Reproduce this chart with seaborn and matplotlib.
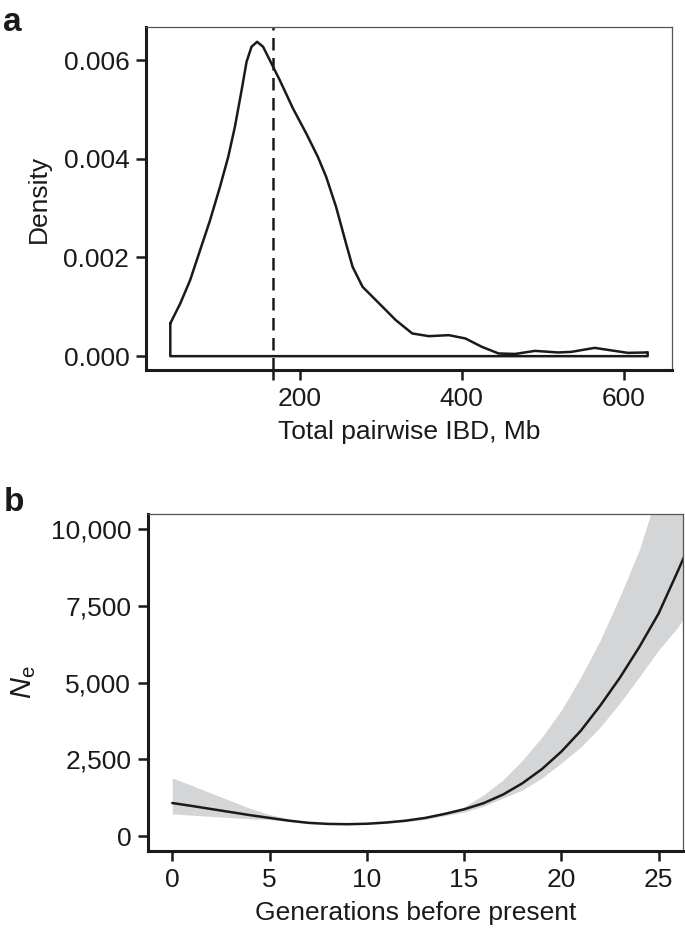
import pandas as pd
import numpy as np
import matplotlib
matplotlib.use("Agg")
import matplotlib.pyplot as plt
import seaborn as sns

# panel a : density of total pairwise IBD
ibd_mb = [40.5, 52.8, 65.0, 77.3, 89.6, 101.8, 112.0, 120.2, 128.5, 134.6, 140.7, 147.6,
          155.0, 163.2, 175.5, 191.8, 208.2, 222.5, 232.8, 245.0, 257.3, 265.4, 277.7,
          298.2, 318.7, 339.0, 359.5, 384.0, 404.5, 424.9, 445.4, 465.9, 490.4, 519.0,
          535.3, 564.0, 588.6, 604.9, 627.4, 629.4]
ibd_density = [0.000663, 0.001068, 0.001541, 0.002149, 0.002757, 0.003432, 0.004040,
               0.004648, 0.005392, 0.005966, 0.006270, 0.006371, 0.006270, 0.006000,
               0.005595, 0.005021, 0.004514, 0.004040, 0.003634, 0.003026, 0.002284,
               0.001810, 0.001405, 0.001068, 0.000730, 0.000460, 0.000405, 0.000426,
               0.000359, 0.000189, 0.000055, 0.000045, 0.000107, 0.000075, 0.000087,
               0.000168, 0.000107, 0.000067, 0.000075, 0.000080]
ibd_median = 167

# panel b : Ne trajectory with confidence band
generations = list(range(0, 28))
ne_est = [1075, 980, 880, 780, 680, 590, 500, 430, 395, 385, 400, 440, 500, 590, 720,
          870, 1070, 1350, 1720, 2180, 2750, 3430, 4250, 5150, 6150, 7250, 8650, 10100]
ne_upper = [1890, 1650, 1400, 1150, 900, 700, 560, 460, 420, 400, 410, 440, 510, 620, 780,
            950, 1340, 1830, 2470, 3220, 4100, 5180, 6380, 7790, 9310, 11300, 13000, 15000]
ne_lower = [720, 680, 640, 600, 560, 540, 470, 400, 385, 380, 380, 410, 470, 540, 660,
            780, 970, 1240, 1500, 1890, 2380, 2900, 3550, 4330, 5180, 6060, 6810, 7800]

sns.set_theme(style="white")
plt.rcParams['font.family'] = ['Liberation Sans', 'DejaVu Sans']
plt.rcParams['mathtext.fontset'] = 'custom'
plt.rcParams['mathtext.rm'] = 'Liberation Sans'
plt.rcParams['mathtext.it'] = 'Liberation Sans:italic'

FS = 19

def style_axes(ax):
    for s in ["top", "right"]:
        ax.spines[s].set_color("#555555")
        ax.spines[s].set_linewidth(0.9)
    for s in ["left", "bottom"]:
        ax.spines[s].set_color("#1a1a1a")
        ax.spines[s].set_linewidth(2.2)
    ax.tick_params(axis="both", which="both", direction="out", length=7, width=1.8,
                   color="#1a1a1a", labelsize=FS, labelcolor="#1a1a1a", pad=5,
                   left=True, bottom=True)


fig = plt.figure(figsize=(6.85, 9.35), dpi=100)

# a
ax1 = fig.add_axes([0.2131, 0.6043, 0.768, 0.3668])
closed_x = ibd_mb + [ibd_mb[-1], ibd_mb[0], ibd_mb[0]]
closed_y = ibd_density + [0, 0, ibd_density[0]]
dens = pd.DataFrame({"x": closed_x, "y": closed_y})
sns.lineplot(data=dens, x="x", y="y", ax=ax1, sort=False, estimator=None,
             color="#1a1a1a", linewidth=1.8)
ax1.axvline(ibd_median, color="#1a1a1a", linewidth=1.8, linestyle=(0, (5, 3)))
ax1.set_xlim(10.5, 659.5)
ax1.set_ylim(-0.00028, 0.00667)
ax1.set_xticks([200, 400, 600])
ax1.set_xticks([ibd_median], minor=True)
ax1.set_yticks([0, 0.002, 0.004, 0.006])
ax1.set_yticklabels(["0.000", "0.002", "0.004", "0.006"])
ax1.set_xlabel("Total pairwise IBD, Mb", fontsize=FS, color="#1a1a1a", labelpad=7)
ax1.set_ylabel("Density", fontsize=FS, color="#1a1a1a", labelpad=9)
style_axes(ax1)
fig.text(0.005, 0.976, "a", fontsize=24, fontweight="bold", color="#1a1a1a", va="center")

# b
ax2 = fig.add_axes([0.216, 0.0898, 0.781, 0.3604])
ne = pd.DataFrame({"g": generations, "ne": ne_est, "lo": ne_lower, "hi": ne_upper})
ax2.fill_between(ne["g"], ne["lo"], ne["hi"], color="#d4d5d7", linewidth=0)
sns.lineplot(data=ne, x="g", y="ne", ax=ax2, color="#1a1a1a", linewidth=1.8)
ax2.set_xlim(-1.25, 26.25)
ax2.set_ylim(-489, 10489)
ax2.set_xticks([0, 5, 10, 15, 20, 25])
ax2.set_yticks([0, 2500, 5000, 7500, 10000])
ax2.set_yticklabels(["0", "2,500", "5,000", "7,500", "10,000"])
ax2.set_xlabel("Generations before present", fontsize=FS, color="#1a1a1a", labelpad=7)
ax2.set_ylabel(r"$\mathit{N}_{\mathrm{e}}$", fontsize=FS + 2, color="#1a1a1a", labelpad=9)
style_axes(ax2)
fig.text(0.005, 0.463, "b", fontsize=24, fontweight="bold", color="#1a1a1a", va="center")

fig.savefig("out.png", dpi=100)
